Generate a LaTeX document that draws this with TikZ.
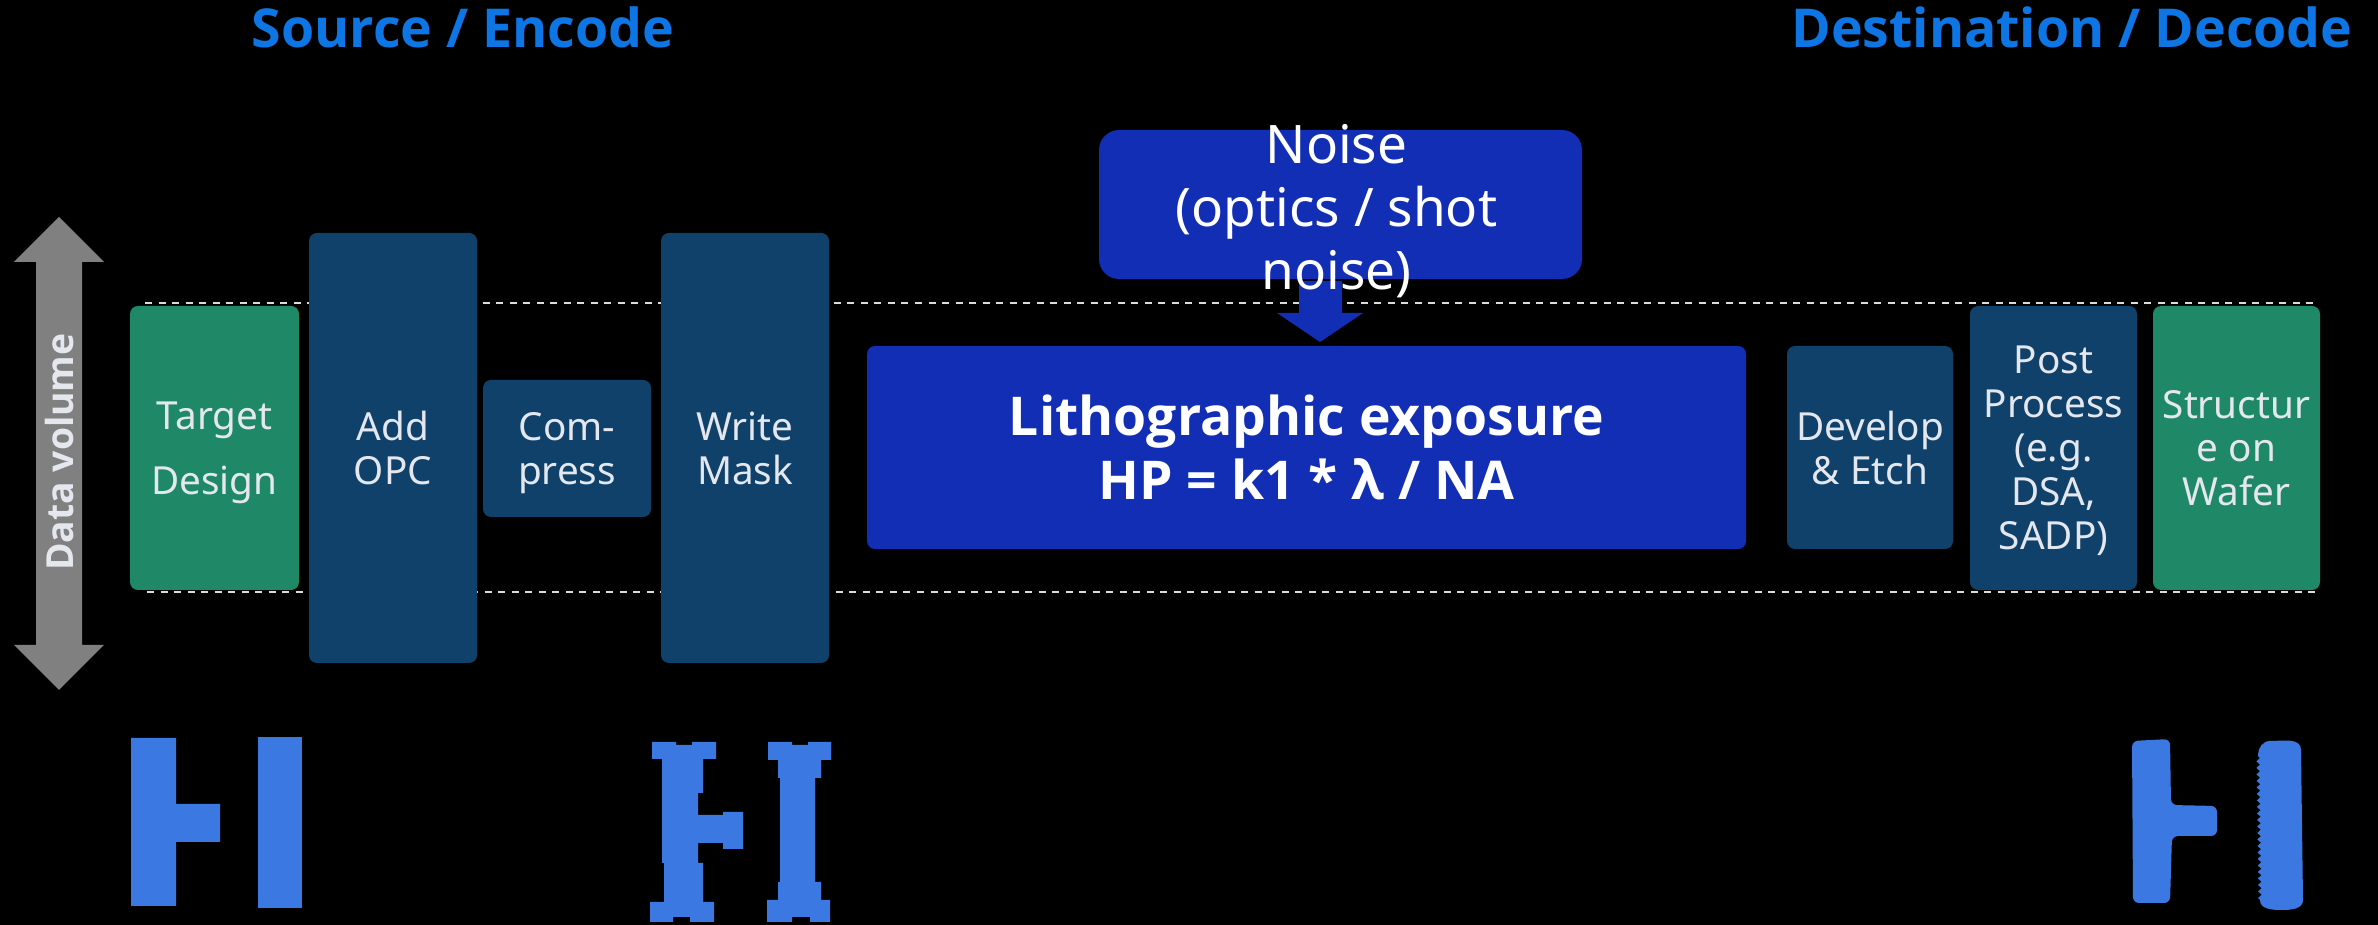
\documentclass[tikz,border=0pt]{standalone}
\usepackage{fontspec}
\setmainfont{Noto Sans}
\newfontfamily\heavy{Open Sans}
\usetikzlibrary{calc,decorations.pathmorphing}

\definecolor{bggreen}{RGB}{31,136,103}
\definecolor{navy}{RGB}{15,65,107}
\definecolor{royal}{RGB}{18,46,180}
\definecolor{headblue}{RGB}{14,117,229}
\definecolor{patblue}{RGB}{59,120,225}
\definecolor{lighttext}{RGB}{228,232,238}
\definecolor{dashgray}{RGB}{215,220,225}
\definecolor{axisgray}{RGB}{128,128,128}

\begin{document}
\begin{tikzpicture}[x=0.01cm,y=-0.01cm,
  sz/.style 2 args={minimum width=#1*0.01cm, minimum height=#2*0.01cm},
  stage/.style={rounded corners=0.08cm, inner sep=0pt, align=center,
    text=lighttext, text depth=0pt, font=\fontsize{11}{12.5}\selectfont},
  greenstage/.style={stage, fill=bggreen},
  navystage/.style={stage, fill=navy},
  heading/.style={anchor=base, text=headblue, inner sep=0pt,
    font=\heavy\bfseries\fontsize{15.25}{17}\selectfont},
  levelline/.style={dashgray, line width=0.7pt, dash pattern=on 0.07cm off 0.065cm},
  pattern/.style={fill=patblue}
]
% canvas
\fill[black] (0,0) rectangle (2378,925);
\useasboundingbox (0,0) rectangle (2378,925);

% headings
\node[heading] (src) at (463,48) {Source / Encode};
\node[heading] (dst) at (2072,48) {Destination / Decode};

% data-volume axis
\fill[axisgray] (59,217) -- (104,262) -- (82,262) -- (82,645) -- (104,645)
  -- (59,690) -- (14,645) -- (36,645) -- (36,262) -- (14,262) -- cycle;
\node[rotate=90, text=lighttext, inner sep=0pt,
  font=\heavy\bfseries\fontsize{10.6}{12}\selectfont] (dv) at (60,452) {Data volume};

% reference levels of the data volume
\coordinate (lt1) at (145,303);
\coordinate (lt2) at (2315,303);
\coordinate (lb1) at (147,592);
\coordinate (lb2) at (2317,592);
\draw[levelline] (lt1) -- (lt2);
\draw[levelline] (lb1) -- (lb2);

% process stages
\node[greenstage, sz={169}{284}, font=\fontsize{11}{18.5}\selectfont] (tgt) at (214.5,448) {Target\\Design};
\node[navystage, sz={168}{430}] (opc) at (393,448) {Add\\OPC};
\node[navystage, sz={168}{137}] (cmp) at (567,448.5) {Com-\\press};
\node[navystage, sz={168}{430}] (wm) at (745,448) {Write\\Mask};
\node[stage, fill=royal, sz={879}{203}, text=white,
  font=\heavy\bfseries\fontsize{15.2}{18.2}\selectfont] (litho) at (1306.5,447.5)
  {Lithographic exposure\\HP = k1 * λ / NA};
\node[navystage, sz={166}{203}] (dev) at (1870,447.5) {Develop\\\& Etch};
\node[navystage, sz={167}{284}] (post) at (2053.5,448) {Post\\Process\\(e.g.\\DSA,\\SADP)};
\node[greenstage, sz={167}{284}] (waf) at (2236.5,448) {Structur\\e on\\Wafer};

% noise injected into the exposure
\coordinate (na) at (1320,281);
\coordinate (nb) at (1320,342);
\fill[royal] ($(na)+(-21,0)$) -- ($(na)+(22,0)$) -- ($(na)+(22,32)$) -- ($(na)+(43,32)$)
  -- (nb) -- ($(na)+(-43,32)$) -- ($(na)+(-21,32)$) -- cycle;
\node[stage, fill=royal, rounded corners=0.2cm, sz={483}{149}] (noise) at (1340.5,204.5) {};
\node[align=center, inner sep=0pt, text=white, text depth=0pt,
  font=\fontsize{15.1}{17.9}\selectfont] (noisetext) at ($(noise.center)+(-4,2)$)
  {Noise\\(optics / shot\\noise)};

% target layout
\fill[pattern] (131,738) -- (176,738) -- (176,804) -- (220,804) -- (220,842)
  -- (176,842) -- (176,906) -- (131,906) -- cycle;
\fill[pattern] (258,737) rectangle (302,908);

% layout with OPC serifs and hammerheads
\fill[pattern] (652,742) -- (676,742) -- (676,745) -- (692,745) -- (692,742) -- (716,742)
  -- (716,759) -- (703,759) -- (703,793) -- (698,793) -- (698,815) -- (723,815)
  -- (723,812) -- (743,812) -- (743,849) -- (723,849) -- (723,843) -- (698,843)
  -- (698,863) -- (703,863) -- (703,902) -- (714,902) -- (714,922) -- (690,922)
  -- (690,917) -- (673,917) -- (673,922) -- (650,922) -- (650,902) -- (664,902)
  -- (664,863) -- (662,863) -- (662,759) -- (652,759) -- cycle;
\fill[pattern] (768,742) -- (792,742) -- (792,745) -- (808,745) -- (808,742) -- (831,742)
  -- (831,760) -- (821,760) -- (821,778) -- (815,778) -- (815,882) -- (821,882)
  -- (821,900) -- (830,900) -- (830,922) -- (810,922) -- (810,917) -- (792,917)
  -- (792,922) -- (767,922) -- (767,900) -- (778,900) -- (778,882) -- (780,882)
  -- (780,778) -- (778,778) -- (778,760) -- (768,760) -- cycle;

% printed structures on the wafer, with rough edges
\fill[pattern, rounded corners=0.06cm] (2132,741) -- (2170,739) -- (2171,805) -- (2217,806)
  -- (2217,836) -- (2172,836) -- (2170,903) -- (2133,903) -- cycle;
\fill[pattern] (2270,741) to[out=0,in=90] (2301,750) -- (2303,900)
  to[out=-90,in=0] (2282,910) to[out=180,in=-90] (2260,900)
  decorate[decoration={snake, segment length=0.065cm, amplitude=0.018cm}]
  { -- (2258,755) } to[out=90,in=180] (2270,741) -- cycle;
\end{tikzpicture}
\end{document}
